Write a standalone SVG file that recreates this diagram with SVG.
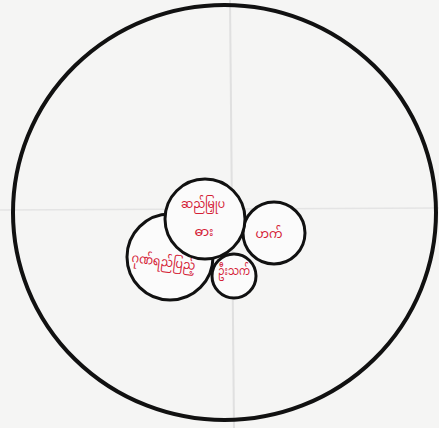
<svg xmlns="http://www.w3.org/2000/svg" width="439" height="428" viewBox="0 0 439 428">
<style>
.c{fill:#fbfbfb;stroke:#111;stroke-width:3}
.t{fill:#d42035;font-family:"Noto Sans Myanmar","Padauk","Myanmar Text","Noto Sans",sans-serif;font-size:13px;text-anchor:middle}
</style>
<rect width="439" height="428" fill="#f5f5f4"/>
<line x1="230" y1="0" x2="234" y2="428" stroke="#e0e0e0" stroke-width="2"/>
<line x1="0" y1="210" x2="439" y2="208" stroke="#e4e4e4" stroke-width="1.5"/>
<g id="outer"><ellipse cx="224.5" cy="212.5" rx="211.5" ry="207.5" fill="none" stroke="#111" stroke-width="4"/></g>
<g id="right"><circle class="c" cx="274" cy="233" r="31"/><text class="t" x="269" y="238" textLength="27" lengthAdjust="spacingAndGlyphs">ဟက်</text></g>
<g id="left"><circle class="c" cx="170" cy="257" r="43"/><text class="t" x="163" y="266" font-size="12" textLength="64" lengthAdjust="spacingAndGlyphs" transform="rotate(7 163 266)">ဂုဏ်ရည်ပြည့်</text></g>
<g id="bottom"><circle class="c" cx="234" cy="276" r="22"/><text class="t" x="234" y="275" font-size="12" textLength="32" lengthAdjust="spacingAndGlyphs">ဦးသက်</text></g>
<g id="top"><circle class="c" cx="205" cy="219" r="40"/><text class="t" x="203" y="208" textLength="44" lengthAdjust="spacingAndGlyphs">ဆည်မြှုပ</text><text class="t" x="204" y="236">ဓား</text></g>
</svg>
